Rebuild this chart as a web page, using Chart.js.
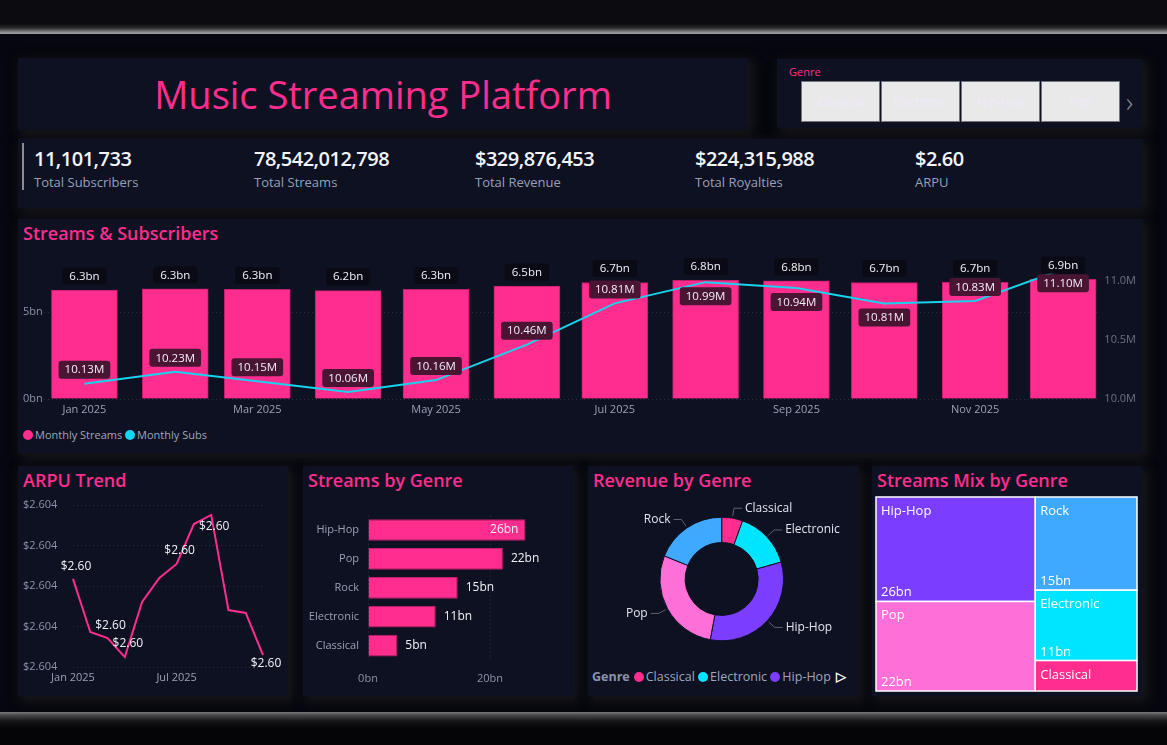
<!DOCTYPE html>
<html>
<head>
<meta charset="utf-8">
<script src="https://cdn.jsdelivr.net/npm/chart.js@4.4.1/dist/chart.umd.min.js"></script>
<style>
  body { margin:0; width:1167px; height:745px; background:#06070e; font-family:"Open Sans", sans-serif; overflow:hidden; position:relative; }
  .top { position:absolute; left:0; top:0; width:1167px; height:34px; background:linear-gradient(#0b0b10 0, #0b0b10 24px, #2c2c30 28px, #9a9a9c 33px, #9a9a9c 34px); }
  .bottom { position:absolute; left:0; top:712px; width:1167px; height:33px; background:linear-gradient(#7a7a7c 0, #4a4a4c 3px, #151518 9px, #050508 16px); }
  .panel { position:absolute; background:#0d1122; box-shadow:4px 4px 10px 2px rgba(24,24,28,0.9); }
  .ptitle { position:absolute; left:5px; top:1px; line-height:26px; color:#ff2d8e; font-size:18px; font-weight:600; white-space:nowrap; }
  .kpi { position:absolute; top:145px; white-space:nowrap; }
  .kpi b { display:block; color:#f4f4fb; font-size:20px; font-weight:600; line-height:28px; letter-spacing:-0.5px; }
  .kpi span { display:block; color:#98a0b8; font-size:13px; line-height:18px; }
  .btn { position:absolute; top:81px; width:77px; height:39px; background:#e9e9ea; border:1px solid #74747c; color:#f1eafb; font-size:12px; line-height:39px; text-align:center; }
  .leg { position:absolute; color:#a0a6bc; font-size:11px; white-space:nowrap; line-height:14px; }
  .dot { display:inline-block; width:10px; height:10px; border-radius:50%; vertical-align:-1px; margin-right:2px; }
  canvas { position:absolute; }
</style>
</head>
<body>
<div class="top"></div>
<div class="bottom"></div>

<div class="panel" style="left:18px;top:58px;width:730px;height:72px;">
  <div style="position:absolute;left:0;width:730px;top:12px;text-align:center;color:#ff2d8e;font-size:38px;line-height:48px;">Music Streaming Platform</div>
</div>
<div class="panel" style="left:777px;top:59px;width:365px;height:69px;"></div>
<div style="position:absolute;left:789px;top:64px;color:#ff2d8e;font-size:11px;">Genre</div>
<div class="btn" style="left:801px;">Classical</div>
<div class="btn" style="left:881px;">Electronic</div>
<div class="btn" style="left:961px;">Hip-Hop</div>
<div class="btn" style="left:1041px;">Pop</div>
<div style="position:absolute;left:1126px;top:82px;color:#8a8f9a;font-size:28px;font-weight:300;">›</div>

<div class="panel" style="left:18px;top:139px;width:1124px;height:69px;"></div>
<div style="position:absolute;left:22px;top:143px;width:2px;height:47px;background:#8c8c92;"></div>
<div id="kpis"></div>

<div class="panel" style="left:18px;top:219px;width:1124px;height:234px;"><div class="ptitle">Streams &amp; Subscribers</div></div>
<div class="leg" style="left:23px;top:428px;"><span class="dot" style="background:#ff2d8e"></span>Monthly Streams <span class="dot" style="background:#18d3ee"></span>Monthly Subs</div>

<div class="panel" style="left:18px;top:466px;width:270px;height:230px;"><div class="ptitle">ARPU Trend</div></div>
<div class="panel" style="left:303px;top:466px;width:270px;height:230px;"><div class="ptitle">Streams by Genre</div></div>
<div class="panel" style="left:588px;top:466px;width:270px;height:230px;"><div class="ptitle">Revenue by Genre</div></div>
<div class="panel" style="left:872px;top:466px;width:270px;height:230px;"><div class="ptitle">Streams Mix by Genre</div></div>
<div class="leg" id="donutLegend" style="left:592px;top:670px;font-size:12.5px;"></div>

<canvas id="mainChart" width="1124" height="175" style="left:18px;top:245px;"></canvas>
<canvas id="arpuChart" width="270" height="195" style="left:18px;top:495px;"></canvas>
<canvas id="genreChart" width="270" height="190" style="left:303px;top:500px;"></canvas>
<canvas id="donutChart" width="270" height="170" style="left:588px;top:495px;"></canvas>
<canvas id="mixChart" width="270" height="205" style="left:872px;top:490px;"></canvas>

<script>
// ---- data ----
const kpiValues = ["11,101,733", "78,542,012,798", "$329,876,453", "$224,315,988", "$2.60"];
const kpiLabels = ["Total Subscribers", "Total Streams", "Total Revenue", "Total Royalties", "ARPU"];

const months = ["Jan", "Feb", "Mar", "Apr", "May", "Jun", "Jul", "Aug", "Sep", "Oct", "Nov", "Dec"];
const monthlyStreams = [6.27, 6.34, 6.30, 6.23, 6.30, 6.49, 6.70, 6.82, 6.80, 6.70, 6.71, 6.88]; // bn
const monthlySubs = [10.13, 10.23, 10.15, 10.06, 10.16, 10.46, 10.81, 10.99, 10.94, 10.81, 10.83, 11.10]; // M
const xTickMonths = [0, 2, 4, 6, 8, 10];
const xTickLabels = ["Jan 2025", "Mar 2025", "May 2025", "Jul 2025", "Sep 2025", "Nov 2025"];

const arpu = [2.604035, 2.603773, 2.603743, 2.603649, 2.603921, 2.604040, 2.604109, 2.604306, 2.604351, 2.603881, 2.603867, 2.603659];
const arpuTickLabels = { 0: "Jan 2025", 6: "Jul 2025" };

const genres = ["Hip-Hop", "Pop", "Rock", "Electronic", "Classical"];
const streamsByGenre = [25.8, 22.1, 14.7, 11.1, 4.8]; // bn

const revGenres = ["Classical", "Electronic", "Hip-Hop", "Pop", "Rock"];
const revenueByGenre = [18.1, 49.8, 106.9, 92.7, 62.4]; // $M

const genreColors = { "Classical": "#ff2d8e", "Electronic": "#00e5ff", "Hip-Hop": "#7b3dff", "Pop": "#ff6fd8", "Rock": "#3fa9ff" };
const mixColumns = [["Hip-Hop", "Pop"], ["Rock", "Electronic", "Classical"]];

// ---- html bits ----
const kpiX = [34, 254, 475, 695, 915];
document.getElementById("kpis").innerHTML = kpiValues.map((v, i) =>
  `<div class="kpi" style="left:${kpiX[i]}px"><b>${v}</b><span>${kpiLabels[i]}</span></div>`).join("");
document.getElementById("donutLegend").innerHTML =
  '<b style="color:#8c94ad;margin-right:4px">Genre</b>' +
  revGenres.slice(0, 3).map(g => `<span class="dot" style="background:${genreColors[g]}"></span>${g} `).join("") +
  '<span style="color:#fff;font-weight:bold;margin-left:2px">&#9655;</span>';

Chart.defaults.font.family = '"Open Sans", sans-serif';
Chart.defaults.font.size = 11;
Chart.defaults.animation = false;
Chart.defaults.plugins.legend.display = false;
Chart.defaults.plugins.tooltip.enabled = false;

function labelBox(ctx, cx, cy, text, bg, padX, h) {
  const w = ctx.measureText(text).width + padX * 2;
  ctx.fillStyle = bg;
  ctx.beginPath();
  ctx.roundRect(cx - w / 2, cy - h / 2, w, h, 3);
  ctx.fill();
  ctx.fillStyle = "#f2f2f7";
  ctx.fillText(text, cx, cy + 0.5);
}

// ---- Streams & Subscribers ----
const monthDays = months.map((m, i) => (Date.UTC(2025, i, 1) - Date.UTC(2025, 0, 1)) / 86400000);
const subsLabelBelow = [false, false, false, false, false, false, false, true, true, true, false, true];

new Chart(document.getElementById("mainChart"), {
  type: "bar",
  data: {
    datasets: [
      {
        type: "line",
        label: "Monthly Subs",
        data: monthDays.map((d, i) => ({ x: d, y: monthlySubs[i] })),
        borderColor: "#18d3ee",
        borderWidth: 2,
        pointRadius: 0,
        yAxisID: "y1",
        order: 0,
      },
      {
        label: "Monthly Streams",
        data: monthDays.map((d, i) => ({ x: d, y: monthlyStreams[i] })),
        backgroundColor: "#ff2d8e",
        borderColor: "#c01f6c",
        borderWidth: 1,
        barThickness: 66,
        yAxisID: "y",
        order: 1,
      },
    ],
  },
  options: {
    responsive: false,
    layout: { padding: { left: 5, right: 6, top: 10, bottom: 0 } },
    scales: {
      x: {
        type: "linear",
        min: -13.8,
        max: 346.6,
        offset: false,
        grid: { display: false, drawTicks: false },
        border: { display: false },
        afterBuildTicks: (s) => { s.ticks = xTickMonths.map((m) => ({ value: monthDays[m] })); },
        afterFit: (s) => { s.height = 21; },
        ticks: {
          autoSkip: false,
          maxRotation: 0,
          padding: 4,
          color: "#9ba1b6",
          callback: (v) => xTickLabels[xTickMonths.findIndex((m) => monthDays[m] === v)],
        },
      },
      y: {
        position: "left",
        min: 0,
        max: 8.28,
        afterFit: (s) => { s.width = 21; },
        grid: { color: "rgba(255,255,255,0.13)", drawTicks: false },
        border: { display: false, dash: [1, 3] },
        ticks: { stepSize: 5, includeBounds: false, crossAlign: "far", color: "#8d93a8", callback: (v) => v + "bn" },
      },
      y1: {
        position: "right",
        min: 10,
        max: 11.22,
        afterFit: (s) => { s.width = 36; },
        grid: { display: false, drawTicks: false },
        border: { display: false },
        ticks: { stepSize: 0.5, includeBounds: false, crossAlign: "far", color: "#6d7284", callback: (v) => v.toFixed(1) + "M" },
      },
    },
  },
  plugins: [{
    id: "mainLabels",
    afterDatasetsDraw(chart) {
      const ctx = chart.ctx;
      ctx.save();
      ctx.font = '11.5px "Open Sans", sans-serif';
      ctx.textAlign = "center";
      ctx.textBaseline = "middle";
      chart.getDatasetMeta(1).data.forEach((bar, i) => {
        labelBox(ctx, bar.x, bar.y - 14, monthlyStreams[i].toFixed(1) + "bn", "#0a0a14", 7, 17);
      });
      chart.getDatasetMeta(0).data.forEach((pt, i) => {
        const dy = subsLabelBelow[i] ? 14 : -14;
        labelBox(ctx, pt.x, pt.y + dy, monthlySubs[i].toFixed(2) + "M", "#4a1433", 6, 18);
      });
      ctx.restore();
    },
  }],
});

// ---- ARPU Trend ----
const arpuLabelAt = { 0: -12, 2: -12, 3: -13, 6: -13, 8: 12, 11: 9 };
new Chart(document.getElementById("arpuChart"), {
  type: "line",
  data: {
    labels: months,
    datasets: [{ data: arpu, borderColor: "#ff2d8e", borderWidth: 2, pointRadius: 0 }],
  },
  options: {
    responsive: false,
    layout: { padding: { left: 5, right: 25, top: 10, bottom: 0 } },
    scales: {
      x: {
        offset: false,
        grid: { display: false, drawTicks: false },
        border: { display: false },
        afterFit: (s) => { s.height = 23; },
        ticks: { autoSkip: false, maxRotation: 0, padding: 4, color: "#9ba1b6", callback: (v, i) => arpuTickLabels[i] || "" },
      },
      y: {
        min: 2.6036,
        max: 2.6044,
        afterFit: (s) => { s.width = 50; },
        grid: { color: "rgba(255,255,255,0.13)", drawTicks: false },
        border: { display: false, dash: [1, 3] },
        ticks: { stepSize: 0.0002, crossAlign: "far", color: "#8d93a8", callback: (v) => "$" + v.toFixed(3) },
      },
    },
  },
  plugins: [{
    id: "arpuLabels",
    afterDatasetsDraw(chart) {
      const ctx = chart.ctx;
      ctx.save();
      ctx.font = '12px "Open Sans", sans-serif';
      ctx.textAlign = "center";
      ctx.textBaseline = "middle";
      ctx.fillStyle = "#f2f2f7";
      chart.getDatasetMeta(0).data.forEach((pt, i) => {
        if (arpuLabelAt[i] !== undefined) ctx.fillText("$" + arpu[i].toFixed(2), pt.x + 3, pt.y + arpuLabelAt[i]);
      });
      ctx.restore();
    },
  }],
});

// ---- Streams by Genre ----
new Chart(document.getElementById("genreChart"), {
  type: "bar",
  data: {
    labels: genres,
    datasets: [{ data: streamsByGenre, backgroundColor: "#ff2d8e", borderColor: "#c01f6c", borderWidth: 1, categoryPercentage: 1, barPercentage: 0.75 }],
  },
  options: {
    responsive: false,
    indexAxis: "y",
    layout: { padding: { left: 5, right: 28, top: 13, bottom: 0 } },
    scales: {
      y: {
        grid: { display: false, drawTicks: false },
        border: { display: false },
        afterFit: (s) => { s.width = 60; },
        ticks: { padding: 9, color: "#9aa0b6" },
      },
      x: {
        min: 0,
        max: 29,
        grid: { color: "rgba(255,255,255,0.15)", drawTicks: false },
        border: { display: false, dash: [1, 3] },
        afterFit: (s) => { s.height = 30; },
        ticks: { stepSize: 20, includeBounds: false, padding: 12, color: "#8d93a8", callback: (v) => v + "bn" },
      },
    },
  },
  plugins: [{
    id: "genreLabels",
    afterDatasetsDraw(chart) {
      const ctx = chart.ctx;
      ctx.save();
      ctx.font = '12px "Open Sans", sans-serif';
      ctx.textBaseline = "middle";
      ctx.fillStyle = "#f2f2f7";
      chart.getDatasetMeta(0).data.forEach((bar, i) => {
        const t = Math.round(streamsByGenre[i]) + "bn";
        const w = ctx.measureText(t).width;
        if (bar.x + 8 + w > chart.chartArea.right) {
          ctx.textAlign = "right";
          ctx.fillText(t, bar.x - 7, bar.y);
        } else {
          ctx.textAlign = "left";
          ctx.fillText(t, bar.x + 8, bar.y);
        }
      });
      ctx.restore();
    },
  }],
});

// ---- Revenue by Genre ----
new Chart(document.getElementById("donutChart"), {
  type: "doughnut",
  data: {
    labels: revGenres,
    datasets: [{ data: revenueByGenre, backgroundColor: revGenres.map((g) => genreColors[g]), borderColor: "#0d1122", borderWidth: 1 }],
  },
  options: {
    responsive: false,
    cutout: "59%",
    layout: { padding: { left: 71.4, right: 74, top: 21.7, bottom: 23.7 } },
  },
  plugins: [{
    id: "leaderLabels",
    afterDatasetsDraw(chart) {
      const ctx = chart.ctx;
      ctx.save();
      ctx.font = '12px "Open Sans", sans-serif';
      ctx.textBaseline = "middle";
      chart.getDatasetMeta(0).data.forEach((arc, i) => {
        const p = arc.getProps(["x", "y", "startAngle", "endAngle", "outerRadius"], true);
        const a = (p.startAngle + p.endAngle) / 2;
        const c = Math.cos(a), s = Math.sin(a);
        const dir = c >= 0 ? 1 : -1;
        const x2 = p.x + c * (p.outerRadius + 10), y2 = p.y + s * (p.outerRadius + 10);
        ctx.strokeStyle = "#5c6070";
        ctx.lineWidth = 1;
        ctx.beginPath();
        ctx.moveTo(p.x + c * (p.outerRadius + 2), p.y + s * (p.outerRadius + 2));
        ctx.lineTo(x2, y2);
        ctx.lineTo(x2 + dir * 8, y2);
        ctx.stroke();
        ctx.fillStyle = "#e2e4ee";
        ctx.textAlign = dir > 0 ? "left" : "right";
        ctx.fillText(revGenres[i], x2 + dir * 11, y2);
      });
      ctx.restore();
    },
  }],
});

// ---- Streams Mix by Genre (treemap drawn on linear scales) ----
const totalStreams = streamsByGenre.reduce((a, b) => a + b, 0);
new Chart(document.getElementById("mixChart"), {
  type: "scatter",
  data: { datasets: [] },
  options: {
    responsive: false,
    layout: { padding: { left: 4, right: 5, top: 7, bottom: 4 } },
    scales: {
      x: { type: "linear", min: 0, max: totalStreams, display: false },
      y: { type: "linear", min: 0, max: 1, reverse: true, display: false },
    },
  },
  plugins: [{
    id: "treemap",
    afterDraw(chart) {
      const ctx = chart.ctx, sx = chart.scales.x, sy = chart.scales.y;
      ctx.save();
      let x0 = 0;
      mixColumns.forEach((col) => {
        const vals = col.map((g) => streamsByGenre[genres.indexOf(g)]);
        const colSum = vals.reduce((a, b) => a + b, 0);
        let y0 = 0;
        col.forEach((g, k) => {
          const y1 = y0 + vals[k] / colSum;
          const px0 = sx.getPixelForValue(x0), px1 = sx.getPixelForValue(x0 + colSum);
          const py0 = sy.getPixelForValue(y0), py1 = sy.getPixelForValue(y1);
          ctx.fillStyle = genreColors[g];
          ctx.fillRect(px0, py0, px1 - px0, py1 - py0);
          ctx.strokeStyle = "#ffffff";
          ctx.lineWidth = 1.5;
          ctx.strokeRect(px0, py0, px1 - px0, py1 - py0);
          ctx.fillStyle = "#ffffff";
          ctx.font = '13px "Open Sans", sans-serif';
          ctx.textAlign = "left";
          ctx.textBaseline = "alphabetic";
          ctx.fillText(g, px0 + 5, py0 + 18);
          if (py1 - py0 > 45) ctx.fillText(Math.round(vals[k]) + "bn", px0 + 5, py1 - 5);
          y0 = y1;
        });
        x0 += colSum;
      });
      ctx.restore();
    },
  }],
});
</script>
</body>
</html>
